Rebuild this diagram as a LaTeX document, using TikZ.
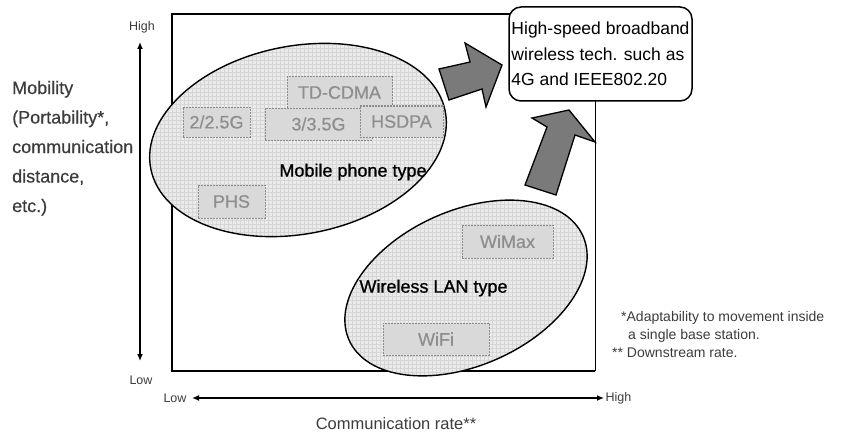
\documentclass[tikz,border=0pt]{standalone}
\usepackage{fontspec}
\setmainfont{Liberation Sans}
\newfontfamily\heavysans[FakeBold=0.9]{Liberation Sans}
\newfontfamily\mediumsans[FakeBold=0.5]{Liberation Sans}
\usetikzlibrary{arrows.meta}

\definecolor{regionfill}{HTML}{EBEBEB}
\definecolor{gridline}{HTML}{D6D6D6}
\definecolor{tagfill}{HTML}{D9D9D9}
\definecolor{tagline}{HTML}{8C8C8C}
\definecolor{tagtext}{HTML}{8E8E8E}
\definecolor{blockarrow}{HTML}{7A7A7A}
\definecolor{axistext}{HTML}{3C3C3C}

\tikzset{
  tag/.style={draw=tagline, dash pattern=on 2pt off 1pt, line width=1pt,
    fill=tagfill, text=tagtext, inner sep=0pt,
    font=\mediumsans\fontsize{18}{18}\selectfont},
  region/.style={draw=black, line width=1.4pt},
  regionlabel/.style={text=black, inner sep=0pt, font=\heavysans\fontsize{18}{18}\selectfont},
  bigarrow/.style={draw=black, line width=1.3pt, fill=blockarrow, line join=miter},
  axisarrow/.style={line width=1.8pt, {Latex[length=7pt,width=6pt]}-{Latex[length=7pt,width=6pt]}},
  ticklabel/.style={inner sep=0pt, text=axistext, font=\fontsize{12.5}{12.5}\selectfont},
  note/.style={inner sep=0pt, anchor=west, text=axistext, font=\fontsize{14}{14}\selectfont},
}

\begin{document}
\begin{tikzpicture}[x=1pt, y=1pt]
\useasboundingbox (0,0) rectangle (848,432);

% plotting frame
\draw[line width=1.8pt] (595,61) -- (172,61) -- (172,418) -- (512,418);
\draw[line width=1pt] (595,61) -- (595,332);

% mobile phone region
\begin{scope}
  \clip[rotate around={11:(298,292)}] (298,292) ellipse (150 and 94);
  \fill[regionfill] (140,180) rectangle (460,400);
  \draw[gridline, line width=0.35pt, step=4] (140,180) grid (460,400);
\end{scope}
\draw[region, rotate around={11:(298,292)}] (298,292) ellipse (150 and 94);

% wireless LAN region
\begin{scope}
  \clip[rotate around={24:(466,144)}] (466,144) ellipse (128 and 77.5);
  \fill[regionfill] (330,50) rectangle (600,240);
  \draw[gridline, line width=0.35pt, step=4] (330,50) grid (600,240);
\end{scope}
\draw[region, rotate around={24:(466,144)}] (466,144) ellipse (128 and 77.5);

% technology tags
\node[tag, minimum width=105pt, minimum height=31pt] (tdcdma) at (339.5,339.5) {TD-CDMA};
\node[tag, minimum width=67pt, minimum height=30pt] (g2) at (216.5,310) {2/2.5G};
\node[tag, minimum width=107pt, minimum height=32pt] (g3) at (318.5,308) {3/3.5G};
\node[tag, minimum width=83pt, minimum height=31pt] (hsdpa) at (401.5,310.5) {HSDPA};
\node[tag, minimum width=67pt, minimum height=33pt] (phs) at (231.5,230.5) {PHS};
\node[tag, minimum width=91pt, minimum height=33pt] (wimax) at (507.5,190.5) {WiMax};
\node[tag, minimum width=106pt, minimum height=32pt] (wifi) at (436,93) {WiFi};

\node[regionlabel] (mobile) at (353,260) {Mobile phone type};
\node[regionlabel] (wlan) at (433.5,144) {Wireless LAN type};

% target technology box
\node[draw=black, line width=1.5pt, rounded corners=12pt, fill=white,
      minimum width=183pt, minimum height=94pt,
      inner xsep=2pt, inner ysep=3pt, align=left,
      font=\fontsize{17.5}{25.5}\selectfont]
      (target) at (600.5,378)
      {High-speed broadband\\wireless tech. such as\\4G and IEEE802.20};

% evolution arrows
\draw[bigarrow] (439,363) -- (470,370) -- (465,389) -- (502,367)
  -- (486,325) -- (482,343) -- (449,332) -- cycle;
\draw[bigarrow] (525,247) -- (547,305) -- (532,314) -- (569,322)
  -- (595,290) -- (575,297) -- (556,237) -- cycle;

% mobility axis
\node[ticklabel] (yhigh) at (142,405) {High};
\node[ticklabel] (ylow) at (141,52) {Low};
\coordinate (ytop) at (140,390);
\coordinate (ybot) at (140,71);
\draw[axisarrow] (ybot) -- (ytop);

\node[anchor=base west, inner sep=0pt, align=left, text=axistext,
      font=\mediumsans\fontsize{18}{29.5}\selectfont] (mobility) at (12,220)
      {Mobility\\(Portability*,\\communication\\distance,\\etc.)};

% rate axis
\node[ticklabel] (xlow) at (175,34) {Low};
\node[ticklabel] (xhigh) at (618.5,34) {High};
\coordinate (xleft) at (192,34);
\coordinate (xright) at (604,34);
\draw[axisarrow] (xleft) -- (xright);
\node[inner sep=0pt, text=axistext, font=\fontsize{16.5}{16.5}\selectfont]
      (rate) at (396,8) {Communication rate**};

% footnotes
\node[note] (fn1) at (621,114) {*Adaptability to movement inside};
\node[note] (fn2) at (628,96) {a single base station.};
\node[note] (fn3) at (612,79) {** Downstream rate.};
\end{tikzpicture}
\end{document}
